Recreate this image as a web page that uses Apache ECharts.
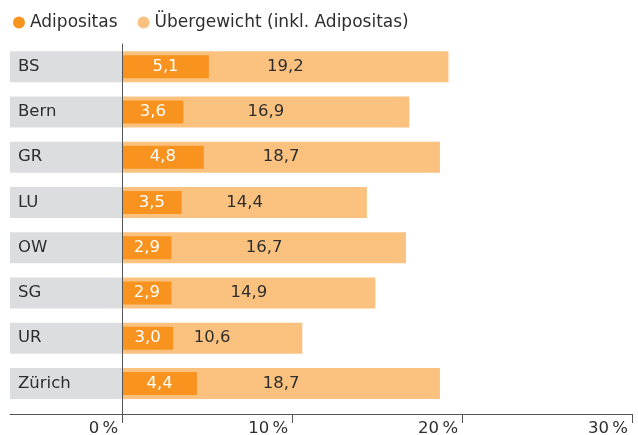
<!DOCTYPE html>
<html>
<head>
<meta charset="utf-8">
<script src="https://cdn.jsdelivr.net/npm/echarts@6/dist/echarts.min.js"></script>
<style>
    html, body { margin: 0; padding: 0; background: #fff; }
    #chart { width: 638px; height: 435px; }
</style>
</head>
<body>
<div id="chart"></div>
<script>
const categories = ['BS', 'Bern', 'GR', 'LU', 'OW', 'SG', 'UR', 'Zürich'];
const adipositas = [5.1, 3.6, 4.8, 3.5, 2.9, 2.9, 3.0, 4.4];
const uebergewicht = [19.2, 16.9, 18.7, 14.4, 16.7, 14.9, 10.6, 18.7];
const tickValues = [0, 10, 20, 30];
const legendNames = ['Adipositas', 'Übergewicht (inkl. Adipositas)'];

const labelBand = -6.6; // grey band behind the category names
const font = 'DejaVu Sans';
const textColor = '#2e2e2e';

const fmt = v => v.toFixed(1).replace('.', ',');

const chart = echarts.init(document.getElementById('chart'));

chart.setOption({
    animation: false,
    textStyle: {fontFamily: font},
    legend: {
        left: 8,
        top: 9,
        icon: 'circle',
        itemWidth: 12,
        itemHeight: 12,
        itemGap: 20,
        data: legendNames,
        textStyle: {fontSize: 17, color: textColor, fontFamily: font}
    },
    grid: {
        left: 10,
        right: 6,
        top: 44,
        bottom: 29,
        containLabel: false,
        outerBoundsMode: 'none'
    },
    xAxis: [{
        type: 'value',
        min: labelBand,
        max: 30,
        offset: 8,
        splitLine: {show: false},
        axisLine: {show: true, lineStyle: {color: '#555', width: 1}},
        axisTick: {show: true, customValues: tickValues.slice(1), length: 9, lineStyle: {color: '#555'}},
        axisLabel: {
            customValues: tickValues,
            formatter: v => v + '\u202F%',
            align: 'right',
            padding: [0, 4, 0, 0],
            margin: 6,
            fontSize: 16.5,
            color: textColor,
            fontFamily: font
        }
    }, {
        type: 'value',
        min: labelBand,
        max: 30,
        position: 'bottom',
        offset: 0,
        splitLine: {show: false},
        axisLine: {show: false},
        axisLabel: {show: false},
        axisTick: {show: true, customValues: [0], length: 17, lineStyle: {color: '#555'}}
    }],
    yAxis: [{
        type: 'category',
        data: categories,
        inverse: true,
        axisLine: {show: false, onZero: false},
        axisTick: {show: false},
        axisLabel: {
            inside: true,
            margin: 8,
            fontSize: 16.5,
            color: textColor,
            fontFamily: font
        },
        z: 5
    }, {
        type: 'category',
        data: categories,
        inverse: true,
        position: 'left',
        axisLine: {show: true, onZero: true, lineStyle: {color: '#555', width: 1}},
        axisTick: {show: false},
        axisLabel: {show: false},
        z: 10
    }],
    series: [{
        name: 'band',
        type: 'bar',
        stack: 'total',
        yAxisIndex: 0,
        barWidth: 31,
        data: categories.map(() => labelBand),
        itemStyle: {color: '#DCDDDF'},
        silent: true
    }, {
        name: legendNames[1],
        type: 'bar',
        stack: 'total',
        yAxisIndex: 0,
        barWidth: 31,
        data: uebergewicht,
        itemStyle: {color: '#FBC27F'},
        label: {
            show: true,
            position: 'inside',
            formatter: p => fmt(p.value),
            fontSize: 16.5,
            color: textColor,
            fontFamily: font
        }
    }, {
        name: legendNames[0],
        type: 'bar',
        yAxisIndex: 1,
        barWidth: 23,
        data: adipositas,
        itemStyle: {color: '#F7931E'},
        label: {
            show: true,
            position: 'inside',
            formatter: p => fmt(p.value),
            fontSize: 16.5,
            color: '#ffffff',
            fontFamily: font
        },
        z: 3
    }]
});
</script>
</body>
</html>
